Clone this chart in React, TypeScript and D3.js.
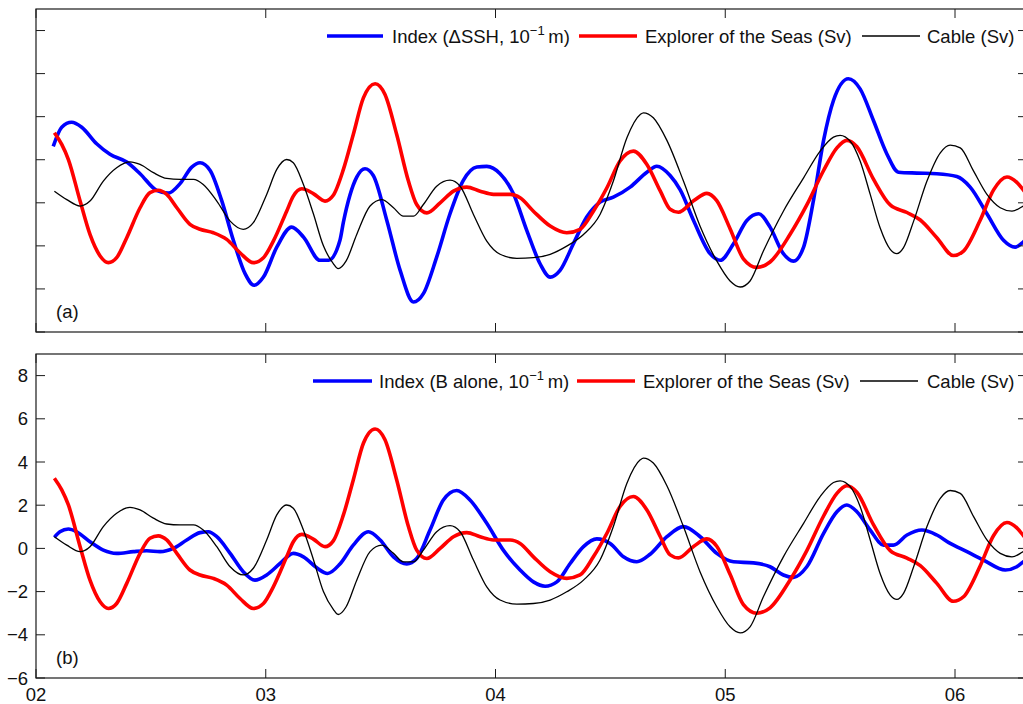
import React from "react";
import * as d3 from "d3";

// Tick values
const yearTicks = [2002, 2003, 2004, 2005, 2006];
const valueTicks = [-6, -4, -2, 0, 2, 4, 6, 8];

// Explorer of the Seas transport (Sv), [decimal year, value]
const explorerSv: [number, number][] = [
  [2002.08, 3.25], [2002.112, 2.71], [2002.141, 2.01], [2002.192, 0.08], [2002.235, -1.47],
  [2002.279, -2.47], [2002.315, -2.78], [2002.351, -2.55], [2002.395, -1.62], [2002.453, -0.23],
  [2002.496, 0.47], [2002.532, 0.58], [2002.569, 0.39], [2002.613, -0.23], [2002.67, -1.0],
  [2002.714, -1.23], [2002.772, -1.39], [2002.83, -1.7], [2002.888, -2.32], [2002.946, -2.78],
  [2002.99, -2.55], [2003.033, -1.78], [2003.091, -0.39], [2003.12, 0.31], [2003.157, 0.65],
  [2003.207, 0.43], [2003.258, 0.08], [2003.294, 0.35], [2003.338, 1.55], [2003.381, 3.17],
  [2003.425, 4.87], [2003.476, 5.53], [2003.519, 5.03], [2003.57, 3.17], [2003.621, 1.01],
  [2003.657, -0.08], [2003.701, -0.47], [2003.759, 0.0], [2003.817, 0.54], [2003.875, 0.73],
  [2003.933, 0.54], [2003.991, 0.39], [2004.064, 0.39], [2004.107, 0.23], [2004.165, -0.39],
  [2004.238, -1.08], [2004.31, -1.39], [2004.368, -1.23], [2004.426, -0.39], [2004.485, 0.7],
  [2004.542, 1.94], [2004.6, 2.4], [2004.659, 1.78], [2004.717, 0.55], [2004.76, -0.3],
  [2004.796, -0.44], [2004.862, 0.09], [2004.92, 0.44], [2004.963, 0.1], [2005.021, -1.2],
  [2005.079, -2.6], [2005.138, -3.0], [2005.195, -2.75], [2005.283, -1.45], [2005.355, -0.1],
  [2005.428, 1.5], [2005.486, 2.55], [2005.529, 2.9], [2005.573, 2.6], [2005.645, 1.1],
  [2005.718, -0.1], [2005.791, -0.45], [2005.849, -0.8], [2005.921, -1.62], [2005.993, -2.45],
  [2006.037, -2.24], [2006.11, -0.8], [2006.168, 0.6], [2006.226, 1.2], [2006.269, 0.95],
  [2006.297, 0.6], [2006.327, 0.2],
];

// Cable transport (Sv)
const cableSv: [number, number][] = [
  [2002.08, 0.54], [2002.134, 0.15], [2002.192, -0.15], [2002.235, 0.08], [2002.293, 1.01],
  [2002.351, 1.63], [2002.409, 1.9], [2002.453, 1.78], [2002.511, 1.4], [2002.569, 1.13],
  [2002.627, 1.09], [2002.685, 1.09], [2002.728, 0.85], [2002.787, 0.08], [2002.845, -0.85],
  [2002.902, -1.23], [2002.946, -0.92], [2003.004, 0.39], [2003.048, 1.55], [2003.091, 2.01],
  [2003.12, 1.86], [2003.164, 0.85], [2003.207, -0.5], [2003.251, -2.0], [2003.294, -2.82],
  [2003.315, -3.06], [2003.35, -2.7], [2003.396, -1.47], [2003.454, -0.15], [2003.505, 0.15],
  [2003.556, -0.23], [2003.599, -0.62], [2003.643, -0.62], [2003.686, -0.08], [2003.744, 0.77],
  [2003.802, 1.05], [2003.846, 0.77], [2003.904, -0.54], [2003.962, -1.78], [2004.02, -2.39],
  [2004.093, -2.58], [2004.165, -2.55], [2004.238, -2.39], [2004.31, -2.01], [2004.383, -1.47],
  [2004.455, -0.54], [2004.513, 1.01], [2004.572, 3.02], [2004.63, 4.1], [2004.644, 4.18],
  [2004.687, 3.95], [2004.746, 2.9], [2004.818, 1.01], [2004.891, -1.1], [2004.963, -2.7],
  [2005.021, -3.63], [2005.065, -3.91], [2005.108, -3.63], [2005.166, -2.24], [2005.253, -0.39],
  [2005.341, 1.16], [2005.413, 2.4], [2005.471, 3.05], [2005.5, 3.13], [2005.544, 2.86],
  [2005.587, 1.94], [2005.631, 0.39], [2005.674, -1.16], [2005.718, -2.16], [2005.747, -2.36],
  [2005.776, -2.08], [2005.82, -0.85], [2005.878, 1.01], [2005.936, 2.32], [2005.979, 2.68],
  [2006.023, 2.55], [2006.081, 1.47], [2006.139, 0.39], [2006.197, -0.23], [2006.248, -0.39],
  [2006.297, -0.15], [2006.349, 0.2],
];

// Index from the sea surface height difference (10^-1 m)
const indexDeltaSSH: [number, number][] = [
  [2002.075, 2.62], [2002.112, 3.51], [2002.155, 3.74], [2002.199, 3.51], [2002.264, 2.74],
  [2002.322, 2.25], [2002.395, 1.89], [2002.453, 1.35], [2002.525, 0.58], [2002.576, 0.45],
  [2002.627, 0.89], [2002.678, 1.66], [2002.714, 1.86], [2002.758, 1.5], [2002.808, 0.11],
  [2002.859, -1.74], [2002.91, -3.29], [2002.949, -3.83], [2002.99, -3.45], [2003.048, -2.06],
  [2003.113, -1.13], [2003.164, -1.59], [2003.236, -2.67], [2003.273, -2.67], [2003.323, -1.74],
  [2003.338, -0.9], [2003.396, 1.19], [2003.432, 1.58], [2003.468, 1.27], [2003.527, -0.82],
  [2003.585, -3.14], [2003.643, -4.61], [2003.686, -4.22], [2003.744, -2.52], [2003.802, -0.51],
  [2003.86, 1.04], [2003.919, 1.66], [2003.962, 1.69], [2004.02, 1.35], [2004.078, 0.42],
  [2004.136, -1.28], [2004.194, -2.83], [2004.238, -3.45], [2004.281, -3.14], [2004.339, -1.9],
  [2004.397, -0.66], [2004.455, 0.03], [2004.513, 0.26], [2004.586, 0.73], [2004.659, 1.42],
  [2004.702, 1.7], [2004.76, 1.27], [2004.804, 0.6], [2004.862, -0.82], [2004.934, -2.36],
  [2004.978, -2.67], [2005.036, -1.9], [2005.094, -0.82], [2005.145, -0.51], [2005.195, -1.13],
  [2005.253, -2.36], [2005.297, -2.71], [2005.341, -2.06], [2005.384, 0.11], [2005.428, 2.9],
  [2005.471, 4.75], [2005.536, 5.76], [2005.587, 5.29], [2005.645, 3.82], [2005.703, 2.28],
  [2005.754, 1.42], [2005.834, 1.38], [2005.921, 1.35], [2006.008, 1.22], [2006.066, 0.73],
  [2006.139, -0.51], [2006.211, -1.74], [2006.262, -2.06], [2006.297, -1.82], [2006.34, -1.3],
];

// Index from the B term alone (10^-1 m)
const indexBAlone: [number, number][] = [
  [2002.08, 0.51], [2002.104, 0.77], [2002.141, 0.9], [2002.177, 0.77], [2002.235, 0.31],
  [2002.293, -0.08], [2002.351, -0.23], [2002.424, -0.15], [2002.482, -0.11], [2002.54, -0.15],
  [2002.598, 0.0], [2002.656, 0.39], [2002.714, 0.73], [2002.75, 0.77], [2002.787, 0.54],
  [2002.845, -0.23], [2002.902, -1.08], [2002.953, -1.47], [2003.004, -1.23], [2003.062, -0.7],
  [2003.12, -0.23], [2003.164, -0.39], [2003.222, -0.9], [2003.269, -1.16], [2003.323, -0.72],
  [2003.381, 0.15], [2003.447, 0.77], [2003.498, 0.39], [2003.556, -0.39], [2003.614, -0.72],
  [2003.657, -0.47], [2003.715, 0.85], [2003.773, 2.24], [2003.831, 2.68], [2003.889, 2.24],
  [2003.962, 1.16], [2004.034, -0.08], [2004.107, -1.0], [2004.165, -1.55], [2004.216, -1.75],
  [2004.267, -1.55], [2004.325, -0.7], [2004.383, 0.08], [2004.441, 0.44], [2004.499, 0.23],
  [2004.557, -0.39], [2004.615, -0.62], [2004.673, -0.27], [2004.746, 0.54], [2004.818, 1.01],
  [2004.891, 0.54], [2004.963, -0.23], [2005.036, -0.62], [2005.123, -0.67], [2005.195, -0.85],
  [2005.253, -1.23], [2005.297, -1.34], [2005.355, -0.85], [2005.428, 0.7], [2005.486, 1.7],
  [2005.529, 2.01], [2005.573, 1.7], [2005.631, 0.85], [2005.689, 0.15], [2005.732, 0.15],
  [2005.791, 0.62], [2005.856, 0.85], [2005.921, 0.62], [2005.979, 0.23], [2006.052, -0.15],
  [2006.124, -0.54], [2006.219, -1.0], [2006.269, -0.85], [2006.297, -0.62], [2006.34, -0.2],
];

const W = 1023;
const H = 704;
const LEFT = 36;
const RIGHT = 1027;
const TICK = 9;
const FONT = "'Liberation Sans', Arial, Helvetica, sans-serif";

const x = d3.scaleLinear().domain([2002, 2006]).range([36, 955]);
const yDomain: [number, number] = [-6, 9];

const BLUE = "#0000ff";
const RED = "#ff0000";
const BLACK = "#000000";

type LegendItem = { color: string; width: number; x1: number; x2: number; tx: number; label: React.ReactNode };

function Panel({
  top,
  bottom,
  index,
  tag,
  legend,
  legendY,
  showLabels,
  clipId,
}: {
  top: number;
  bottom: number;
  index: [number, number][];
  tag: string;
  legend: LegendItem[];
  legendY: number;
  showLabels: boolean;
  clipId: string;
}) {
  const y = d3.scaleLinear().domain(yDomain).range([bottom, top]);
  const line = d3
    .line<[number, number]>()
    .x((d) => x(d[0]))
    .y((d) => y(d[1]))
    .curve(d3.curveMonotoneX);

  const series = [
    { data: index, color: BLUE, w: 3.6 },
    { data: explorerSv, color: RED, w: 3.6 },
    { data: cableSv, color: BLACK, w: 1.3 },
  ];

  return (
    <g>
      <defs>
        <clipPath id={clipId}>
          <rect x={LEFT} y={top} width={RIGHT - LEFT} height={bottom - top} />
        </clipPath>
      </defs>
      <rect x={LEFT} y={top} width={RIGHT - LEFT} height={bottom - top} fill="#fff" />
      <g clipPath={`url(#${clipId})`}>
        {series.map((s, i) => (
          <path key={i} d={line(s.data) || ""} fill="none" stroke={s.color} strokeWidth={s.w} strokeLinejoin="round" />
        ))}
      </g>
      {/* frame */}
      <rect x={LEFT} y={top} width={RIGHT - LEFT} height={bottom - top} fill="none" stroke="#1a1a1a" strokeWidth={1.2} />
      {/* x ticks, top and bottom */}
      {yearTicks.map((t) => (
        <g key={t}>
          <line x1={x(t)} x2={x(t)} y1={bottom} y2={bottom - TICK} stroke="#1a1a1a" strokeWidth={1} />
          <line x1={x(t)} x2={x(t)} y1={top} y2={top + TICK} stroke="#1a1a1a" strokeWidth={1} />
          {showLabels && (
            <text x={x(t)} y={bottom + 23} textAnchor="middle" fontSize={18.5} fontFamily={FONT} fill="#111">
              {String(t).slice(2)}
            </text>
          )}
        </g>
      ))}
      {/* y ticks, left and right */}
      {valueTicks.map((v) => (
        <g key={v}>
          <line x1={LEFT} x2={LEFT + TICK} y1={y(v)} y2={y(v)} stroke="#1a1a1a" strokeWidth={1} />
          <line x1={RIGHT} x2={RIGHT - TICK} y1={y(v)} y2={y(v)} stroke="#1a1a1a" strokeWidth={1} />
          {showLabels && (
            <text x={LEFT - 8} y={y(v) + 6.5} textAnchor="end" fontSize={18.5} fontFamily={FONT} fill="#111">
              {v < 0 ? `\u2212${Math.abs(v)}` : String(v)}
            </text>
          )}
        </g>
      ))}
      <text x={56} y={bottom - 14} fontSize={18.5} fontFamily={FONT} fill="#111">
        {tag}
      </text>
      {/* legend */}
      {legend.map((l, i) => (
        <g key={i}>
          <line x1={l.x1} x2={l.x2} y1={legendY} y2={legendY} stroke={l.color} strokeWidth={l.width} />
          <text x={l.tx} y={legendY + 7} fontSize={18.5} fontFamily={FONT} fill="#111">
            {l.label}
          </text>
        </g>
      ))}
    </g>
  );
}

function indexLabel(inner: string) {
  return (
    <>
      {`Index (${inner}, 10`}
      <tspan dy={-8} fontSize={13}>
        {"\u22121"}
      </tspan>
      <tspan dy={8}>{"\u2009m)"}</tspan>
    </>
  );
}

export default function App() {
  const legendA: LegendItem[] = [
    { color: BLUE, width: 3.6, x1: 327, x2: 383, tx: 392, label: indexLabel("\u0394SSH") },
    { color: RED, width: 3.6, x1: 579, x2: 637, tx: 645, label: "Explorer of the Seas (Sv)" },
    { color: BLACK, width: 1.3, x1: 862, x2: 920, tx: 927, label: "Cable (Sv)" },
  ];
  const legendB: LegendItem[] = [
    { color: BLUE, width: 3.6, x1: 313, x2: 372, tx: 379, label: indexLabel("B alone") },
    { color: RED, width: 3.6, x1: 577, x2: 635, tx: 643, label: "Explorer of the Seas (Sv)" },
    { color: BLACK, width: 1.3, x1: 860, x2: 918, tx: 927, label: "Cable (Sv)" },
  ];

  return (
    <div style={{ position: "absolute", left: 0, top: 0, width: W, height: H, overflow: "hidden", background: "#fff" }}>
      <svg width={W} height={H} viewBox={`0 0 ${W} ${H}`} style={{ display: "block" }}>
        <rect x={0} y={0} width={W} height={H} fill="#fff" />
        <Panel top={9} bottom={332} index={indexDeltaSSH} tag="(a)" legend={legendA} legendY={36} showLabels={false} clipId="clipA" />
        <Panel top={354} bottom={678} index={indexBAlone} tag="(b)" legend={legendB} legendY={381} showLabels={true} clipId="clipB" />
      </svg>
    </div>
  );
}
